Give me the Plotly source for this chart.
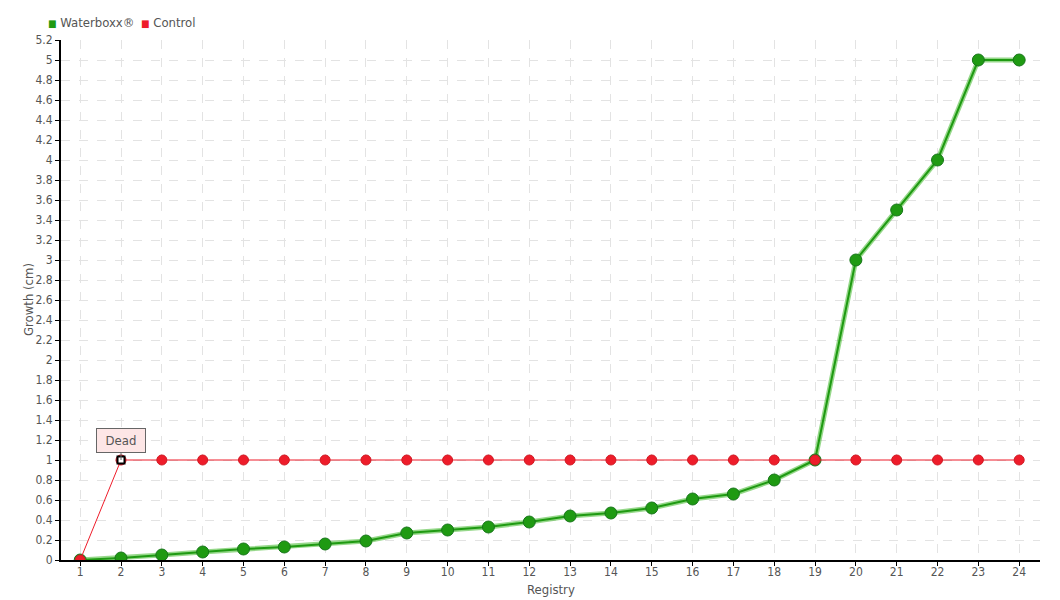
import plotly.graph_objects as go

registry = list(range(1, 25))
waterboxx = [0, 0.02, 0.05, 0.08, 0.11, 0.13, 0.16, 0.19, 0.27, 0.30, 0.33, 0.38,
             0.44, 0.47, 0.52, 0.61, 0.66, 0.80, 1.0, 3.0, 3.5, 4.0, 5.0, 5.0]
control = [0] + [1] * 23
y_ticks = [round(i * 0.2, 1) for i in range(27)]
y_labels = [("%g" % v) for v in y_ticks]

FONT = "DejaVu Sans Condensed, Liberation Sans Narrow, sans-serif"
GREEN = "#1f9a12"
RED = "#ee1c2a"
TXT = "#555"

fig = go.Figure()
# green shading line
fig.add_trace(go.Scatter(x=registry, y=waterboxx, mode="lines",
                         line=dict(color="rgba(80,190,60,0.6)", width=5),
                         showlegend=False, hoverinfo="skip"))
fig.add_trace(go.Scatter(x=registry, y=waterboxx, mode="lines+markers",
                         line=dict(color=GREEN, width=2),
                         marker=dict(size=12, color=GREEN, line=dict(color="#17761a", width=1)),
                         showlegend=False, name="Waterboxx®"))
fig.add_trace(go.Scatter(x=registry, y=control, mode="lines+markers",
                         line=dict(color=RED, width=1),
                         marker=dict(size=10, color=RED, line=dict(color="#d01a24", width=1)),
                         showlegend=False, name="Control"))
# highlighted "Dead" point
fig.add_trace(go.Scatter(x=[registry[1]], y=[control[1]], mode="markers",
                         marker=dict(symbol="square", size=7, color="white",
                                     line=dict(color="black", width=2)),
                         showlegend=False, hoverinfo="skip"))

fig.add_annotation(x=registry[1], y=control[1], text="Dead", showarrow=True,
                   arrowhead=0, arrowwidth=1, arrowcolor="#666", ax=0, ay=-20,
                   width=40, height=15,
                   bgcolor="#fde6e6", bordercolor="#666", borderwidth=1, borderpad=4,
                   font=dict(family=FONT, size=13, color=TXT))
# axis titles
fig.add_annotation(text="Registry", xref="paper", yref="paper", x=0.5, y=0,
                   xanchor="center", yanchor="middle", yshift=-29, showarrow=False,
                   font=dict(family=FONT, size=13, color=TXT))
fig.add_annotation(text="Growth (cm)", xref="paper", yref="paper", x=0, y=0.5,
                   xanchor="center", yanchor="middle", xshift=-33, textangle=-90,
                   showarrow=False, font=dict(family=FONT, size=13, color=TXT))
# legend
fig.add_annotation(text='<span style="color:%s;font-size:10px">■</span> Waterboxx®' % GREEN,
                   xref="paper", yref="paper", x=0, y=1, xshift=-15, yshift=18,
                   xanchor="left", yanchor="middle", showarrow=False,
                   font=dict(family=FONT, size=13, color=TXT))
fig.add_annotation(text='<span style="color:%s;font-size:10px">■</span> Control' % RED,
                   xref="paper", yref="paper", x=0, y=1, xshift=78, yshift=18,
                   xanchor="left", yanchor="middle", showarrow=False,
                   font=dict(family=FONT, size=13, color=TXT))

fig.update_layout(
    width=1052, height=592,
    margin=dict(l=53, r=20, t=32, b=40, autoexpand=False),
    plot_bgcolor="white", paper_bgcolor="white",
    font=dict(family=FONT, size=13, color=TXT),
    showlegend=False,
)
fig.update_xaxes(range=[0.53, 24.51], tickmode="array", tickvals=registry,
                 ticktext=[str(r) for r in registry], automargin=False,
                 showline=True, linecolor="black", linewidth=2,
                 ticks="outside", ticklen=4, tickcolor="black",
                 ticklabelstandoff=-4, tickfont=dict(size=12),
                 showgrid=True, gridcolor="#e3e3e3", griddash="dash", gridwidth=1,
                 zeroline=False)
fig.update_yaxes(range=[0, 5.2], tickmode="array", tickvals=y_ticks, ticktext=y_labels,
                 automargin=False, tickfont=dict(size=12),
                 showline=True, linecolor="black", linewidth=2,
                 ticks="outside", ticklen=4, tickcolor="black",
                 showgrid=True, gridcolor="#e3e3e3", griddash="dash", gridwidth=1,
                 zeroline=False)

fig.write_html("out.html")
